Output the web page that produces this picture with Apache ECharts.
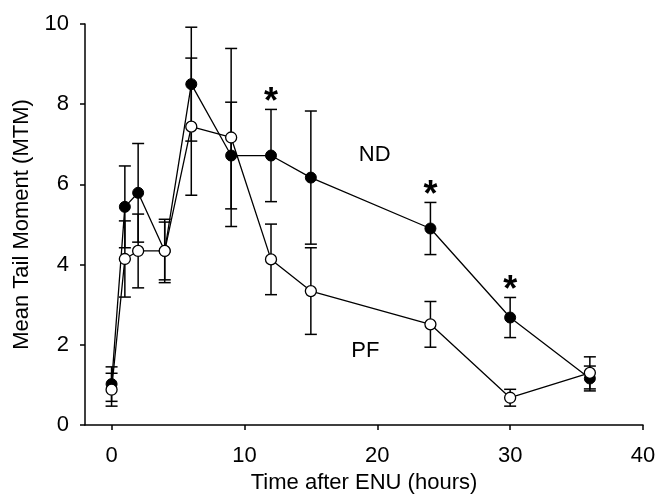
<!DOCTYPE html>
<html>
<head>
<meta charset="utf-8">
<script src="https://cdn.jsdelivr.net/npm/echarts@6/dist/echarts.min.js"></script>
<style>
  html, body { margin: 0; padding: 0; background: #fff; }
  #chart { width: 656px; height: 504px; }
</style>
</head>
<body>
<div id="chart"></div>
<script>
// hours after ENU
var hours = [0, 1, 2, 4, 6, 9, 12, 15, 24, 30, 36];
// ND group (filled circles)
var ndMean = [1.02, 5.44, 5.79, 4.34, 8.50, 6.72, 6.72, 6.17, 4.90, 2.68, 1.16];
var ndErr  = [0.43, 1.02, 1.23, 0.79, 1.42, 1.33, 1.15, 1.66, 0.65, 0.50, 0.31];
// PF group (open circles)
var pfMean = [0.88, 4.14, 4.34, 4.34, 7.44, 7.17, 4.13, 3.34, 2.51, 0.68, 1.30];
var pfErr  = [0.41, 0.95, 0.92, 0.72, 1.71, 2.22, 0.88, 1.08, 0.57, 0.21, 0.40];
// significance marks (on ND)
var starHours = [12, 24, 30];
// ticks
var xTicks = [0, 10, 20, 30, 40];
// group labels placed in data space
var ndLabelPos = [19.8, 6.73];
var pfLabelPos = [19.1, 1.85];

var FONT = 'Liberation Sans, Arial, sans-serif';

function pairs(ys) {
  return hours.map(function (h, i) { return [h, ys[i]]; });
}
function bars(ys, es) {
  return hours.map(function (h, i) { return [h, ys[i] - es[i], ys[i] + es[i]]; });
}
var starData = starHours.map(function (h) {
  var i = hours.indexOf(h);
  return [h, ndMean[i] + ndErr[i]];
});

function renderErr(params, api) {
  var x = api.value(0);
  var top = api.coord([x, api.value(2)]);
  var bot = api.coord([x, api.value(1)]);
  var w = 6;
  var st = { stroke: '#000', lineWidth: 1.5 };
  return {
    type: 'group',
    children: [
      { type: 'line', shape: { x1: top[0], y1: top[1], x2: bot[0], y2: bot[1] }, style: st },
      { type: 'line', shape: { x1: top[0] - w, y1: top[1], x2: top[0] + w, y2: top[1] }, style: st },
      { type: 'line', shape: { x1: bot[0] - w, y1: bot[1], x2: bot[0] + w, y2: bot[1] }, style: st }
    ]
  };
}

var chart = echarts.init(document.getElementById('chart'));
var option = {
  animation: false,
  textStyle: { fontFamily: FONT },
  grid: { left: 85, right: 13, top: 24, bottom: 79, containLabel: false, outerBoundsMode: 'none' },
  xAxis: {
    type: 'value',
    min: -2,
    max: 40,
    name: 'Time after ENU (hours)',
    nameLocation: 'middle',
    nameGap: 45,
    nameTextStyle: { fontSize: 22, color: '#000', fontFamily: FONT },
    axisLine: { show: true, onZero: false, lineStyle: { color: '#000', width: 1.5 } },
    axisTick: { show: true, length: 5, customValues: xTicks, lineStyle: { color: '#000', width: 1.5 } },
    axisLabel: { customValues: xTicks, margin: 20, fontSize: 22, color: '#000', fontFamily: FONT },
    splitLine: { show: false }
  },
  yAxis: {
    type: 'value',
    min: 0,
    max: 10,
    interval: 2,
    name: 'Mean Tail Moment (MTM)',
    nameLocation: 'middle',
    nameGap: 52,
    nameTextStyle: { fontSize: 22, color: '#000', fontFamily: FONT },
    axisLine: { show: true, onZero: false, lineStyle: { color: '#000', width: 1.5 } },
    axisTick: { show: true, length: 5, lineStyle: { color: '#000', width: 1.5 } },
    axisLabel: { margin: 16, fontSize: 22, color: '#000', fontFamily: FONT },
    splitLine: { show: false }
  },
  series: [
    {
      type: 'custom', name: 'ND err', z: 1,
      renderItem: renderErr, encode: { x: 0, y: [1, 2] },
      data: bars(ndMean, ndErr)
    },
    {
      type: 'custom', name: 'PF err', z: 1,
      renderItem: renderErr, encode: { x: 0, y: [1, 2] },
      data: bars(pfMean, pfErr)
    },
    {
      type: 'line', name: 'ND', z: 2,
      data: pairs(ndMean),
      symbol: 'circle', symbolSize: 11,
      itemStyle: { color: '#000', borderColor: '#000', borderWidth: 1 },
      lineStyle: { color: '#000', width: 1.3 }
    },
    {
      type: 'line', name: 'PF', z: 3,
      data: pairs(pfMean),
      symbol: 'circle', symbolSize: 11,
      itemStyle: { color: '#fff', borderColor: '#000', borderWidth: 1.3 },
      lineStyle: { color: '#000', width: 1.3 }
    },
    {
      type: 'scatter', name: 'stars', z: 4,
      data: starData, symbolSize: 0,
      itemStyle: { opacity: 1 },
      label: {
        show: true, position: 'top', distance: -12, formatter: '*',
        fontSize: 36, fontWeight: 'bold', color: '#000', fontFamily: FONT
      }
    },
    {
      type: 'scatter', name: 'labels', z: 4, symbolSize: 0,
      itemStyle: { opacity: 1 },
      data: [
        { value: ndLabelPos, label: { formatter: 'ND' } },
        { value: pfLabelPos, label: { formatter: 'PF' } }
      ],
      label: { show: true, position: 'inside', fontSize: 22, color: '#000', fontFamily: FONT }
    }
  ]
};
chart.setOption(option);
</script>
</body>
</html>
